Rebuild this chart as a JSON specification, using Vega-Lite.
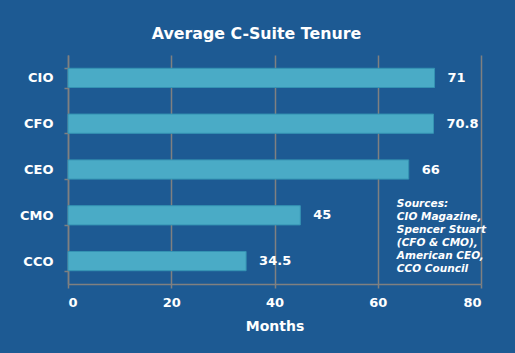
{
  "$schema": "https://vega.github.io/schema/vega-lite/v6.json",
  "width": 413,
  "height": 229,
  "autosize": {"type": "none"},
  "padding": {"left": 68, "top": 55, "right": 34, "bottom": 69},
  "background": "#1d5a93",
  "title": {
    "text": "Average C-Suite Tenure",
    "color": "white",
    "font": "DejaVu Sans",
    "fontSize": 15.8,
    "fontWeight": "bold",
    "anchor": "middle",
    "dx": -18,
    "offset": 6
  },
  "data": {
    "values": [
      {"role": "CIO", "months": 71, "label": "71"},
      {"role": "CFO", "months": 70.8, "label": "70.8"},
      {"role": "CEO", "months": 66, "label": "66"},
      {"role": "CMO", "months": 45, "label": "45"},
      {"role": "CCO", "months": 34.5, "label": "34.5"}
    ]
  },
  "encoding": {
    "y": {
      "field": "role",
      "type": "nominal",
      "sort": null,
      "scale": {"paddingInner": 0.58, "paddingOuter": 0.29},
      "axis": {
        "title": null,
        "domainColor": "#808080",
        "domainWidth": 1.5,
        "tickColor": "#808080",
        "tickWidth": 1.5,
        "tickBand": "extent",
        "tickSize": 4,
        "labelColor": "white",
        "labelFont": "DejaVu Sans",
        "labelFontSize": 13,
        "labelFontWeight": "bold",
        "labelPadding": 11,
        "grid": false
      }
    }
  },
  "layer": [
    {
      "mark": {"type": "bar", "color": "#4aabc6", "stroke": "#3593b3", "strokeWidth": 1},
      "encoding": {
        "x": {
          "field": "months",
          "type": "quantitative",
          "scale": {"domain": [0, 80]},
          "axis": {
            "title": "Months",
            "values": [0, 20, 40, 60, 80],
            "grid": true,
            "gridColor": "#808080",
            "gridOpacity": 1,
            "gridWidth": 1.5,
            "domainColor": "#808080",
            "domainWidth": 1.5,
            "tickColor": "#808080",
            "tickWidth": 1.5,
            "tickSize": 4,
            "labelColor": "white",
            "labelFont": "DejaVu Sans",
            "labelFontSize": 13,
            "labelFontWeight": "bold",
            "labelPadding": 8,
            "titleColor": "white",
            "titleFont": "DejaVu Sans",
            "titleFontSize": 14,
            "titleFontWeight": "bold",
            "titlePadding": 10
          }
        }
      }
    },
    {
      "mark": {"type": "text", "align": "left", "baseline": "middle", "dx": 13, "color": "white", "font": "DejaVu Sans", "fontSize": 13, "fontWeight": "bold"},
      "encoding": {
        "x": {"field": "months", "type": "quantitative"},
        "text": {"field": "label"}
      }
    },
    {
      "data": {"values": [{"note": ["Sources:", "CIO Magazine,", "Spencer Stuart", "(CFO & CMO),", "American CEO,", "CCO Council"], "xpos": 63.7, "cat": "CMO"}]},
      "mark": {"type": "text", "align": "left", "baseline": "middle", "dy": -11, "color": "white", "font": "DejaVu Sans", "fontSize": 10.5, "fontStyle": "italic", "fontWeight": "bold", "lineHeight": 13},
      "encoding": {
        "x": {"field": "xpos", "type": "quantitative"},
        "y": {"field": "cat", "type": "nominal"},
        "text": {"field": "note"}
      }
    }
  ],
  "config": {"view": {"stroke": null}}
}
